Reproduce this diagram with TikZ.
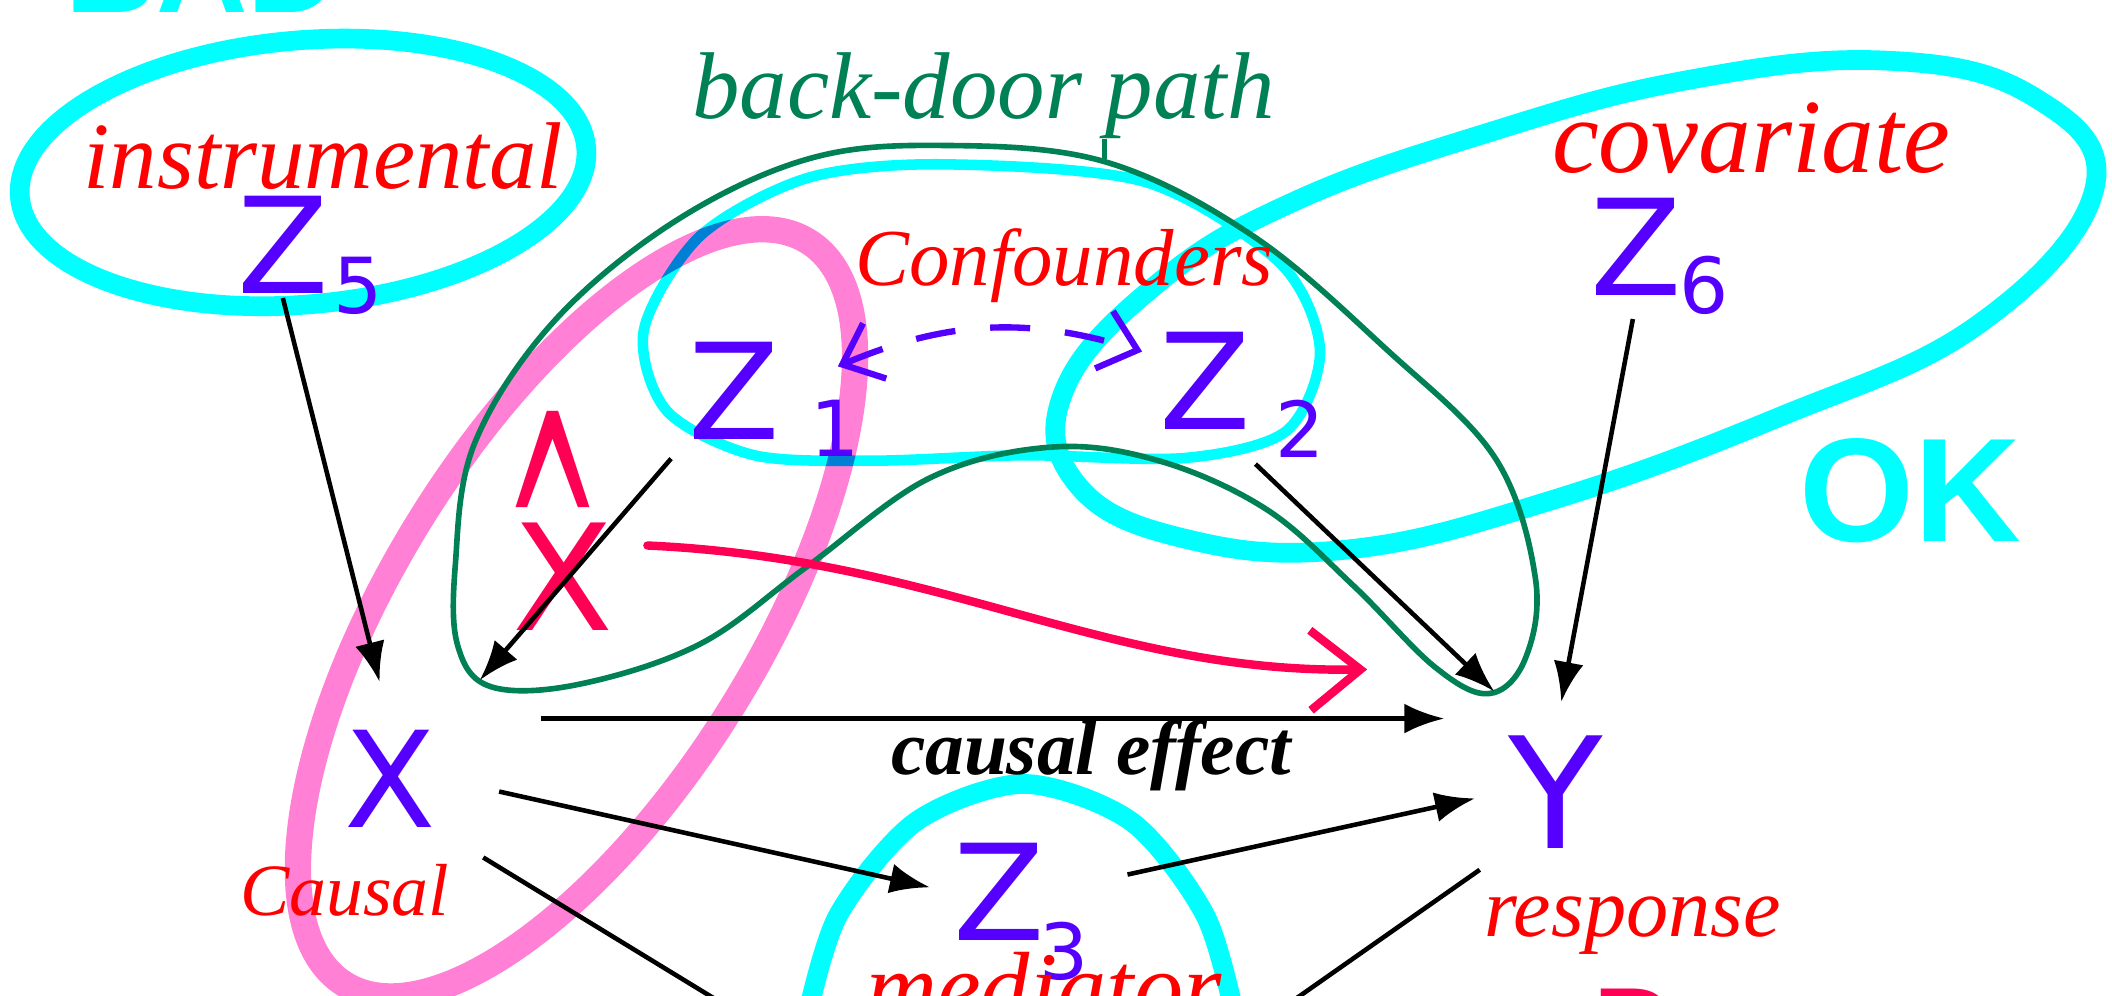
\documentclass[tikz,border=0pt]{standalone}
\usepackage{fontspec}
\setmainfont{Liberation Serif}
\setsansfont{DejaVu Sans}
\newfontfamily\markerfont{Liberation Sans}
\usetikzlibrary{arrows.meta}
\definecolor{HiCyan}{RGB}{0,255,255}
\definecolor{HiPink}{RGB}{255,128,213}
\definecolor{VarBlue}{RGB}{85,0,255}
\definecolor{LabRed}{RGB}{255,0,0}
\definecolor{HatRed}{RGB}{255,0,85}
\definecolor{PathGreen}{RGB}{0,128,85}

\begin{document}
\begin{tikzpicture}[
x=0.013469cm,y=-0.013469cm,
var/.style={inner sep=1pt,text=VarBlue,font=\sffamily\fontsize{38}{38}\selectfont},
sub/.style={inner sep=0pt,text=VarBlue,font=\sffamily\fontsize{22}{22}\selectfont},
lbl/.style={inner sep=0pt,anchor=base,text=LabRed,font=\itshape\fontsize{#1}{#1}\selectfont},
lbl/.default=24,
ring/.style={draw=HiCyan,line width=#1},
ring/.default=5.6pt,
bigmark/.style={inner sep=0pt,anchor=base,text=HiCyan,font=\markerfont\bfseries\fontsize{#1}{#1}\selectfont},
arrow/.style={-{Latex[length=4mm,width=3mm]},line width=1.3pt},
bdloop/.style={draw=PathGreen,line width=1.6pt},
hatarrow/.style={-{Straight Barb[length=5mm,width=8mm]},draw=HatRed,line width=2.4pt,line cap=round},
dasharrow/.style={{Straight Barb[length=3.5mm,width=6mm]}-{Straight Barb[length=3.5mm,width=6mm]},
  draw=VarBlue,line width=1.8pt,dash pattern=on 0.4cm off 0.35cm}
]
\useasboundingbox (0,0) rectangle (1568,739);
\clip (0,0) rectangle (1568,739);
\fill[white] (0,0) rectangle (1568,739);

% highlighter rings
\draw[ring,rotate around={5:(225,128)}] (225,128) ellipse [x radius=211, y radius=98];
\draw[ring] plot[smooth cycle,tension=0.7] coordinates {(1555,140) (1510,72) (1400,45)
  (1250,60) (1100,100) (960,150) (860,210) (790,290) (800,360) (880,400) (1000,408)
  (1150,372) (1320,310) (1470,240)};
\draw[ring=3pt] plot[smooth cycle] coordinates {(700,122) (850,135) (950,195) (980,260)
  (955,320) (880,340) (760,338) (650,342) (560,338) (495,305) (478,245) (520,175) (600,132)};
\draw[ring] plot[smooth] coordinates {(598,760) (622,680) (680,610) (760,582) (840,610)
  (895,680) (918,760)};
\draw[draw=HiPink,line width=7.5pt,blend mode=multiply,rotate around={58:(428,455)}]
  (428,455) ellipse [x radius=325, y radius=135];

% back-door loop
\draw[bdloop] plot[smooth cycle,tension=0.6] coordinates {(340,480) (338,420) (352,330)
  (410,240) (500,165) (600,118) (700,108) (820,120) (930,175) (1030,260) (1110,340)
  (1140,430) (1132,490) (1105,515) (1065,495) (1005,435) (940,378) (860,342) (780,332)
  (690,355) (600,420) (520,478) (430,508) (365,510)};
\node[inner sep=0pt,anchor=base,text=PathGreen,font=\itshape\fontsize{27}{27}\selectfont]
  (bdp) at (730,88) {back-door path};
\coordinate (looptop) at (820,118);
\draw[bdloop] (bdp.south -| looptop) -- (looptop);

% variables
\node[var] (z5) at (210,182) {Z};
\node[sub] (s5) at (266,212) {5};
\node[var] (z1) at (545,290) {Z};
\node[sub] (s1) at (620,318) {1};
\node[var] (z2) at (895,283) {Z};
\node[sub] (s2) at (965,318) {2};
\node[var] (z6) at (1215,183) {Z};
\node[sub] (s6) at (1265,212) {6};
\node[var] (z3) at (742,662) {Z};
\node[sub] (s3) at (790,706) {3};
\node[var] (x) at (290,578) {X};
\node[var,font=\sffamily\fontsize{44}{44}\selectfont] (y) at (1155,588) {Y};
\node[var,text=HatRed,font=\sffamily\fontsize{42}{42}\selectfont,
  label={[text=HatRed,inner sep=0pt,label distance=1.5mm,xshift=-1mm,font=\sffamily\fontsize{42}{42}\selectfont]north:%
  \scalebox{0.8}[2.4]{\raisebox{-0.47em}[0.26em][0pt]{\textasciicircum}}}]
  (xhat) at (418,428) {X};

% labels
\node[lbl=27] (instr) at (240,140) {instrumental};
\node[lbl=23] (conf) at (790,212) {Confounders};
\node[lbl=30] (covar) at (1300,128) {covariate};
\node[lbl=24] (resp) at (1212,695) {response};
\node[lbl=21] (caus) at (256,680) {Causal};
\node[lbl=28] (medi) at (775,758) {mediator};
\node[inner sep=0pt,anchor=base,font=\bfseries\itshape\fontsize{22}{22}\selectfont]
  (effect) at (810,575) {causal effect};
\node[bigmark=42] (ok) at (1418,402) {OK};
\node[bigmark=36] (bad) at (150,9) {BAD};
\node[inner sep=0pt,anchor=base,text=HatRed,font=\sffamily\fontsize{40}{40}\selectfont]
  (rr) at (1215,810) {R};

% edges
\coordinate (xout) at (610,790);
\coordinate (yout) at (900,785);
\coordinate (redend) at (1015,497);
\draw[arrow,shorten >=4.5mm] (z5.south) -- (x.north);
\draw[arrow,shorten <=2mm,shorten >=6mm] (z1.south west) -- (x.north east);
\draw[arrow] ([yshift=-0.3cm]z2.south east) -- ([xshift=-0.1cm,yshift=0.4cm]y.north west);
\draw[arrow,shorten <=2mm,shorten >=3mm] (z6.south) -- (y.north);
\draw[arrow,shorten <=10mm,shorten >=6mm] ([yshift=0.6cm]x.east) -- ([yshift=0.6cm]x.east -| y.west);
\draw[arrow,shorten <=6mm,shorten >=2mm] (x.east) -- (z3.west);
\draw[arrow,shorten <=8mm,shorten >=3mm] (z3.east) -- (y.west);
\draw[arrow,shorten <=5mm] (x.south east) -- (xout);
\draw[arrow,shorten <=3mm] (y.south west) -- (yout);
\draw[dasharrow] ([shift={(40,-18)}]z1.east) to[bend left=20] ([shift={(-10,-22)}]z2.west);
\draw[hatarrow] ([shift={(22,-23)}]xhat.east) .. controls (700,415) and (820,500) .. (redend);
\end{tikzpicture}
\end{document}
